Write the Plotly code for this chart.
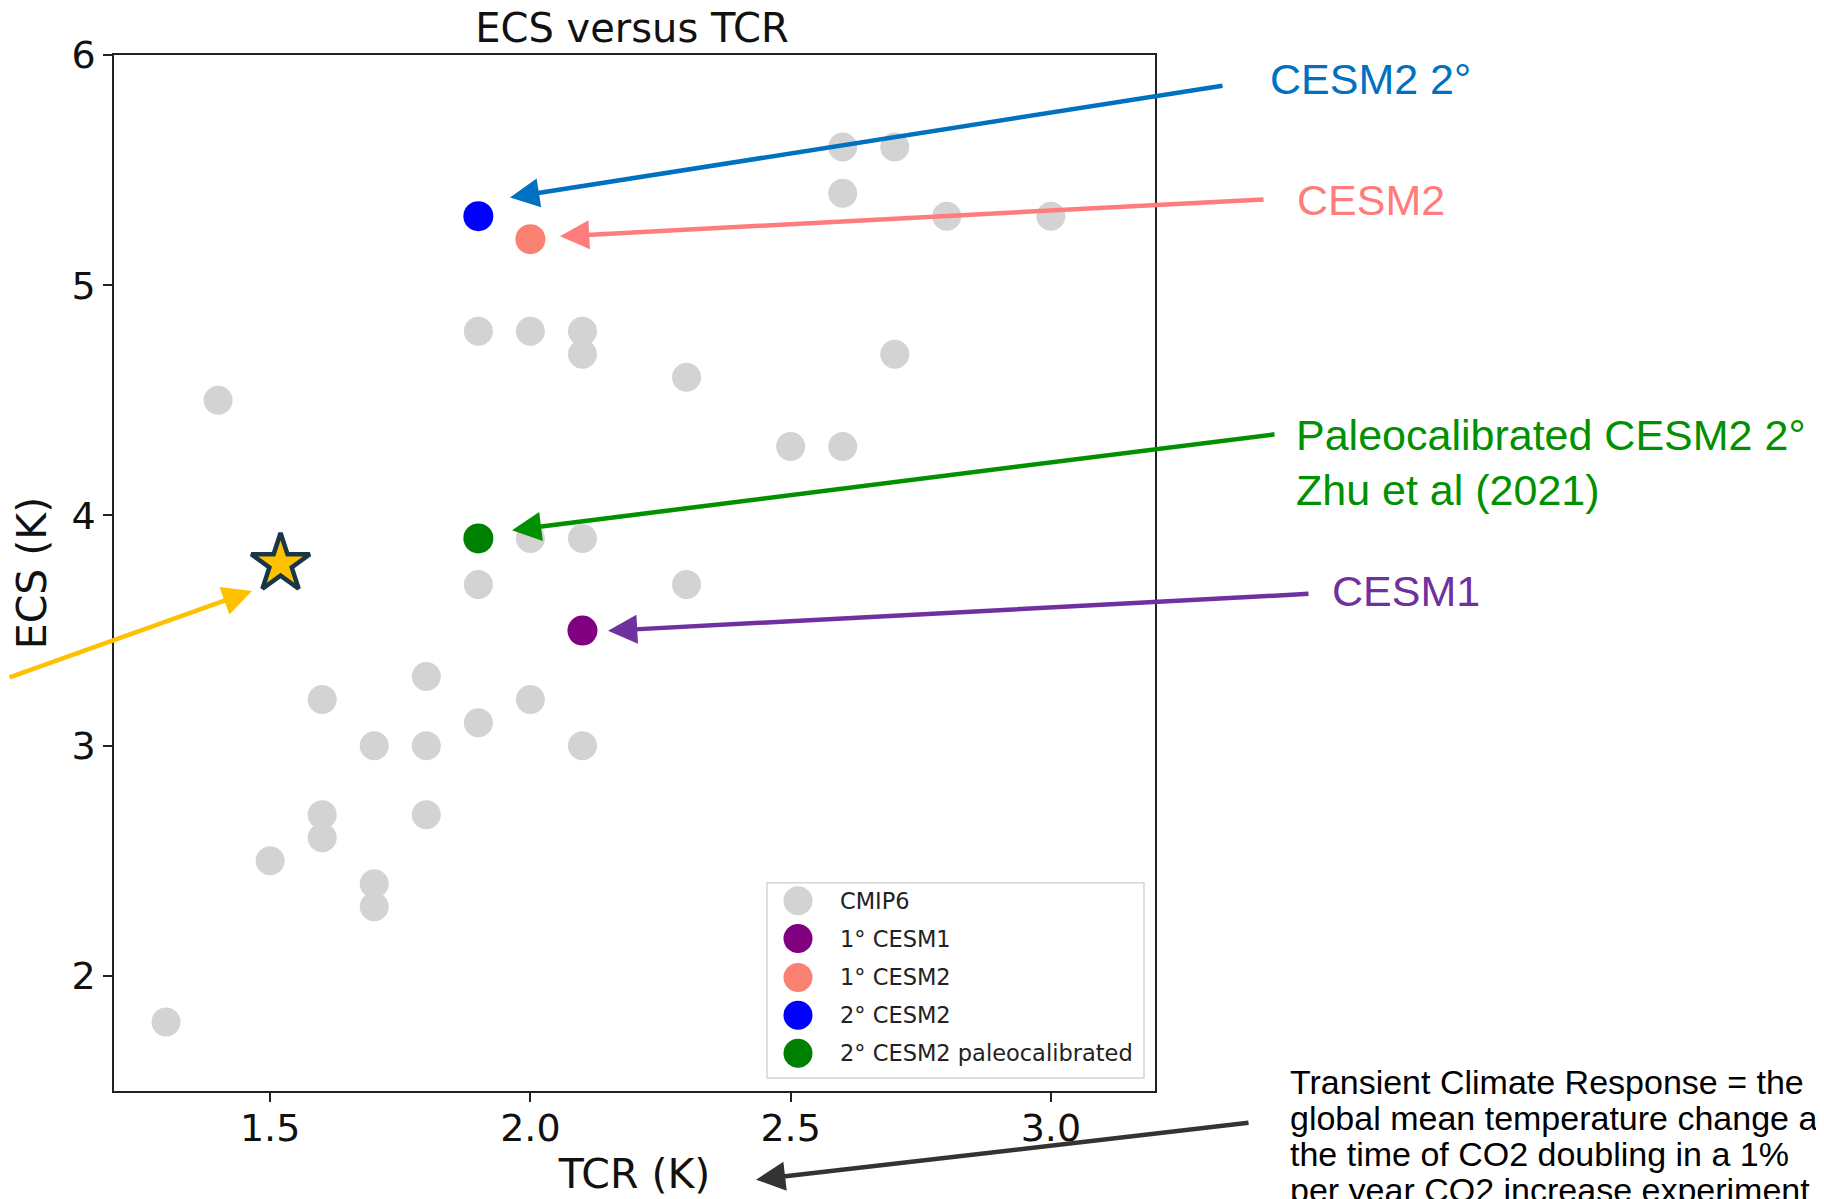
import plotly.graph_objects as go

# ---------------- data ----------------
cmip6_tcr = [2.6, 2.7, 2.6, 2.8, 3.0, 1.9, 2.0, 2.1, 2.1, 2.7, 2.3, 1.4, 2.5, 2.6,
             2.0, 2.1, 1.9, 2.3, 1.8, 1.6, 2.0, 1.9, 1.7, 1.8, 2.1, 1.6, 1.8, 1.6,
             1.5, 1.7, 1.7, 1.3]
cmip6_ecs = [5.6, 5.6, 5.4, 5.3, 5.3, 4.8, 4.8, 4.8, 4.7, 4.7, 4.6, 4.5, 4.3, 4.3,
             3.9, 3.9, 3.7, 3.7, 3.3, 3.2, 3.2, 3.1, 3.0, 3.0, 3.0, 2.7, 2.7, 2.6,
             2.5, 2.4, 2.3, 1.8]

special_names = ["1° CESM1", "1° CESM2", "2° CESM2", "2° CESM2 paleocalibrated"]
special_tcr = [2.1, 2.0, 1.9, 1.9]
special_ecs = [3.5, 5.2, 5.3, 3.9]
special_colors = ["purple", "salmon", "blue", "green"]

star_tcr = [1.52]
star_ecs = [3.79]

legend_labels = ["CMIP6"] + special_names
legend_colors = ["lightgray"] + special_colors

x_ticks = [1.5, 2.0, 2.5, 3.0]
y_ticks = [2, 3, 4, 5, 6]

# ---------------- layout geometry (page pixels) ----------------
OFF = 8                      # default body margin of the html page
W, H = 1824 - OFF, 1199 - OFF
L, R, T, B = 114, 1155, 55, 1095


def px(xp):
    return (xp - L) / (R - L)


def py(yp):
    return (B - yp) / (B - T)


MPL_FONT = "DejaVu Sans, sans-serif"
ARIAL = "Arial, Liberation Sans, sans-serif"

fig = go.Figure()

fig.add_trace(go.Scatter(
    x=cmip6_tcr, y=cmip6_ecs, mode="markers", name="CMIP6",
    marker=dict(size=29, color="lightgray"), showlegend=False))

for n, xv, yv, c in zip(special_names, special_tcr, special_ecs, special_colors):
    fig.add_trace(go.Scatter(
        x=[xv], y=[yv], mode="markers", name=n,
        marker=dict(size=30, color=c), showlegend=False))

fig.add_trace(go.Scatter(
    x=star_tcr, y=star_ecs, mode="markers", name="star",
    marker=dict(symbol="star", size=44, color="#FFC000",
                line=dict(color="#17364A", width=4.5)),
    showlegend=False))

# custom legend (on an auxiliary, invisible 0..1 axis pair)
leg_y = [py(v) for v in [904, 942, 981, 1019, 1057]]
fig.add_trace(go.Scatter(
    x=[px(798)] * len(legend_labels), y=leg_y, mode="markers",
    marker=dict(size=29, color=legend_colors), xaxis="x2", yaxis="y2",
    showlegend=False, hoverinfo="skip"))

shapes = [dict(type="rect", xref="paper", yref="paper",
               x0=px(767), x1=px(1144), y0=py(1082), y1=py(886),
               line=dict(color="#d5d5d5", width=1.5),
               fillcolor="rgba(255,255,255,0.85)", layer="below")]

annotations = []
for lab, yy in zip(legend_labels, leg_y):
    annotations.append(dict(xref="paper", yref="paper", x=px(838), y=yy,
                            text=lab, showarrow=False, xanchor="left",
                            yanchor="middle",
                            font=dict(family=MPL_FONT, size=22.5, color="#222")))

# arrows: (head_x, head_y, tail_x, tail_y, color) in page pixels
arrows = [
    (510, 198, 1224, 86, "#0070C0"),
    (560, 237, 1265, 200, "#FF7C7C"),
    (512, 532, 1276, 436, "#009000"),
    (608, 633, 1310, 596, "#7030A0"),
    (252, 593, 0, 680, "#FFC000"),
    (756, 1184, 1250, 1127, "#333333"),
]
for hx, hy, tx, ty, c in arrows:
    annotations.append(dict(xref="paper", yref="paper", x=px(hx), y=py(hy),
                            ax=tx - hx, ay=ty - hy, axref="pixel", ayref="pixel",
                            text="", showarrow=True, arrowhead=2, arrowsize=1.3,
                            arrowwidth=4.5, arrowcolor=c, standoff=0))

# coloured labels
labels = [
    ("CESM2 2°", 1268, 79, "#0070C0", 43),
    ("CESM2", 1295, 201, "#FF7C7C", 43),
    ("Paleocalibrated CESM2 2°", 1294, 436, "#009000", 43),
    ("Zhu et al (2021)", 1294, 492, "#009000", 43),
    ("CESM1", 1330, 593, "#7030A0", 43),
    ("Transient Climate Response = the", 1288, 1086, "black", 34),
    ("global mean temperature change at", 1288, 1122, "black", 34),
    ("the time of CO2 doubling in a 1%", 1288, 1158, "black", 34),
    ("per year CO2 increase experiment", 1288, 1194, "black", 34),
]
for txt, xx, yy, c, s in labels:
    annotations.append(dict(xref="paper", yref="paper", x=px(xx), y=py(yy),
                            text=txt, showarrow=False, xanchor="left",
                            yanchor="middle",
                            font=dict(family=ARIAL, size=s, color=c)))

fig.update_layout(
    width=W, height=H,
    margin=dict(l=L - OFF, r=W - (R - OFF), t=T - OFF, b=H - (B - OFF), pad=0),
    paper_bgcolor="white", plot_bgcolor="white",
    title=dict(text="ECS versus TCR", x=px(632), xref="paper", xanchor="center",
               y=1 - (28 - OFF) / H, yref="container", yanchor="middle",
               font=dict(family=MPL_FONT, size=40, color="#111")),
    font=dict(family=MPL_FONT, color="#111"),
    xaxis=dict(range=[1.2, 3.2], tickvals=x_ticks, ticktext=[f"{v:.1f}" for v in x_ticks],
               showgrid=False, zeroline=False, showline=True, mirror=True,
               linecolor="#222", linewidth=1.5, ticks="outside", ticklen=9,
               tickwidth=1.5, tickcolor="#222", ticklabelstandoff=-6,
               tickfont=dict(family=MPL_FONT, size=38, color="#111"),
               title=dict(text="TCR (K)", standoff=8,
                          font=dict(family=MPL_FONT, size=41, color="#111"))),
    yaxis=dict(range=[1.5, 6], tickvals=y_ticks, ticktext=[str(v) for v in y_ticks],
               showgrid=False, zeroline=False, showline=True, mirror=True,
               linecolor="#222", linewidth=1.5, ticks="outside", ticklen=9,
               tickwidth=1.5, tickcolor="#222",
               tickfont=dict(family=MPL_FONT, size=38, color="#111"),
               title=dict(text="ECS (K)", standoff=16,
                          font=dict(family=MPL_FONT, size=41, color="#111"))),
    xaxis2=dict(range=[0, 1], overlaying="x", visible=False, fixedrange=True),
    yaxis2=dict(range=[0, 1], overlaying="y", visible=False, fixedrange=True),
    annotations=annotations,
    shapes=shapes,
    showlegend=False,
)

fig.write_html("out.html")
